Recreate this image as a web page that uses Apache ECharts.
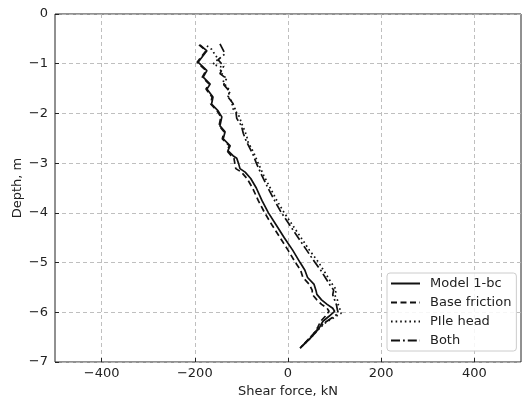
<!DOCTYPE html>
<html>
<head>
<meta charset="utf-8">
<script src="https://cdn.jsdelivr.net/npm/echarts@6/dist/echarts.min.js"></script>
<style>
  html, body { margin: 0; padding: 0; background: #fff; }
  #chart { width: 522px; height: 403px; }
</style>
</head>
<body>
<div id="chart"></div>
<script>
// Shear force (kN) along the pile depth (m) for four boundary-condition cases
const xTicks = [-400, -200, 0, 200, 400];

const depthModel = [-0.62,-0.74,-0.97,-1.14,-1.27,-1.41,-1.51,-1.67,-1.81,-1.95,-2.07,-2.25,-2.37,-2.51,-2.65,-2.75,-2.85,-2.9,-3.01,-3.11,-3.18,-3.31,-3.5,-3.75,-4.0,-4.25,-4.5,-4.75,-5.0,-5.15,-5.3,-5.44,-5.56,-5.64,-5.75,-5.84,-5.92,-5.98,-6.08,-6.18,-6.3,-6.42,-6.54,-6.72];
const forceModel = [-189,-174,-193,-174,-182,-167,-174,-161,-164,-150,-142,-146,-135,-139,-124,-129,-118,-110,-106,-103,-92,-80,-68,-56,-42,-25,-8,10,26,36,42,56,60,62,72,84,96,100,88,75,68,58,46,26];

const depthBase = depthModel;
const forceBase = [-191,-176,-195,-176,-184,-169,-176,-163,-166,-152,-144,-148,-137,-141,-126,-131,-122,-116,-114,-112,-100,-88,-76,-64,-50,-34,-17,0,16,27,32,46,52,52,62,72,84,88,80,70,64,56,44,26];

const depthHead = [-0.64,-0.71,-0.91,-1.01,-1.07,-1.17,-1.25,-1.37,-1.55,-1.65,-1.75,-1.91,-2.01,-2.11,-2.21,-2.44,-2.57,-2.71,-2.84,-3.0,-3.25,-3.5,-3.75,-4.0,-4.25,-4.5,-4.75,-5.0,-5.15,-5.3,-5.45,-5.55,-5.65,-5.75,-5.85,-5.95,-6.02,-6.1,-6.2,-6.3,-6.42,-6.54,-6.72];
const forceHead = [-174,-164,-150,-161,-142,-146,-135,-139,-124,-129,-121,-118,-107,-103,-99,-89,-86,-78,-71,-64,-52,-38,-24,-8,10,28,46,66,76,86,96,104,100,106,108,112,114,100,82,70,58,46,26];

const depthBoth = [-0.6,-0.8,-0.92,-1.05,-1.2,-1.3,-1.42,-1.55,-1.68,-1.8,-1.95,-2.1,-2.25,-2.4,-2.55,-2.7,-2.85,-3.0,-3.25,-3.5,-3.75,-4.0,-4.25,-4.5,-4.75,-5.0,-5.15,-5.3,-5.45,-5.55,-5.65,-5.75,-5.85,-5.95,-6.02,-6.1,-6.2,-6.3,-6.42,-6.54,-6.72];
const forceBoth = [-146,-135,-150,-138,-146,-132,-138,-126,-128,-118,-112,-110,-100,-96,-90,-82,-74,-68,-56,-43,-29,-14,4,22,40,58,70,80,90,98,96,100,104,106,108,96,80,68,56,45,26];

const names = ['Model 1-bc', 'Base friction', 'PIle head', 'Both'];

const pairs = (f, d) => f.map((v, i) => [v, d[i]]);
const minus = v => (v < 0 ? '\u2212' + Math.abs(v) : String(v));
const font = 'DejaVu Sans';

function lineSeries(name, data, type) {
  return {
    name, type: 'line', data, symbol: 'none', silent: true,
    lineStyle: { color: '#111', width: 1.7, type, cap: 'butt' },
    itemStyle: { color: '#111' }
  };
}

const chart = echarts.init(document.getElementById('chart'), null, { renderer: 'canvas' });
chart.setOption({
  animation: false,
  backgroundColor: '#fff',
  grid: { left: 55, right: 1, top: 14, bottom: 39, show: true, borderColor: '#222', borderWidth: 1 },
  xAxis: {
    type: 'value', min: -500, max: 500,
    name: 'Shear force, kN', nameLocation: 'middle', nameGap: 23, nameMoveOverlap: false,
    nameTextStyle: { fontFamily: font, fontSize: 13, color: '#222' },
    axisLine: { show: false, onZero: false },
    axisTick: { show: true, inside: true, length: 4, lineStyle: { color: '#222' }, customValues: xTicks },
    axisLabel: { fontFamily: font, fontSize: 13, color: '#222', margin: 5, formatter: minus, customValues: xTicks },
    splitLine: { show: true, lineStyle: { color: '#b8b8b8', type: [4, 3], width: 0.9 } }
  },
  yAxis: {
    type: 'value', min: -7, max: 0, interval: 1,
    name: 'Depth, m', nameLocation: 'middle', nameGap: 31, nameMoveOverlap: false,
    nameTextStyle: { fontFamily: font, fontSize: 13, color: '#222' },
    axisLine: { show: false, onZero: false },
    axisTick: { show: true, inside: true, length: 4, lineStyle: { color: '#222' } },
    axisLabel: { fontFamily: font, fontSize: 13, color: '#222', margin: 7, formatter: minus },
    splitLine: { show: true, lineStyle: { color: '#b8b8b8', type: [4, 3], width: 0.9 } }
  },
  legend: {
    data: names, orient: 'vertical', left: 387, top: 273,
    itemWidth: 29, itemHeight: 14, itemGap: 6,
    padding: [4, 5, 4, 3],
    borderColor: '#cccccc', borderWidth: 1, borderRadius: 3,
    backgroundColor: 'rgba(255,255,255,0.85)',
    itemStyle: { color: 'rgba(0,0,0,0)', borderColor: 'rgba(0,0,0,0)', borderWidth: 0 },
    textStyle: { fontFamily: font, fontSize: 13, color: '#222', padding: [0, 0, 0, 5] }
  },
  series: [
    lineSeries(names[0], pairs(forceModel, depthModel), 'solid'),
    lineSeries(names[1], pairs(forceBase, depthBase), [6, 3.5]),
    lineSeries(names[2], pairs(forceHead, depthHead), [1.6, 3]),
    lineSeries(names[3], pairs(forceBoth, depthBoth), [9, 3, 1.8, 3])
  ]
});
</script>
</body>
</html>
